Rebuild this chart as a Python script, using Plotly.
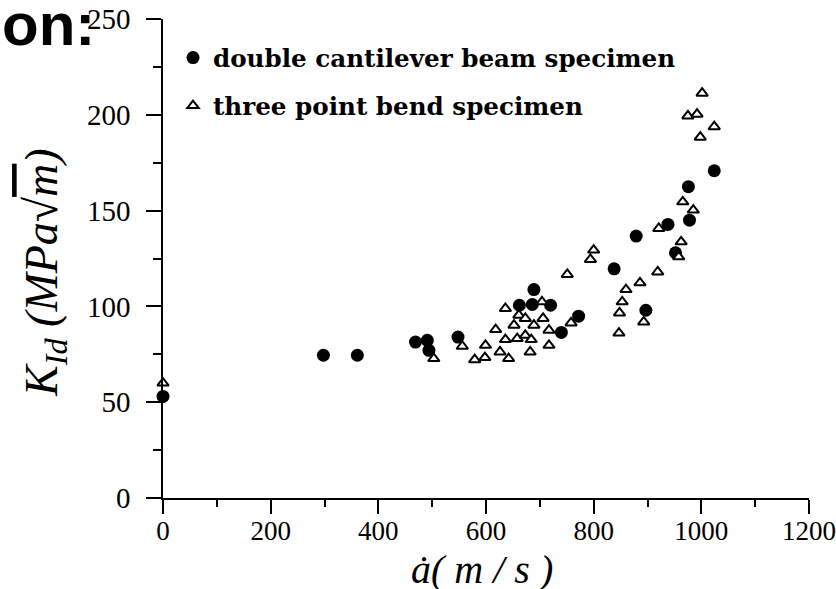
import plotly.graph_objects as go

# double cantilever beam specimen (filled circles)
dcb_x = [0, 298, 361, 469, 491, 494, 548, 662, 686, 689, 720, 740, 772, 838, 879, 897, 938, 952, 976, 978, 1024]
dcb_y = [53, 74.5, 74.5, 81.4, 82.3, 77.1, 84.0, 100.6, 101, 108.8, 100.6, 86.4, 94.9, 119.6, 136.7, 98, 142.8, 128, 162.5, 145, 170.8]

# three point bend specimen (open triangles)
tpb_x = [0, 503, 556, 579, 598, 599, 618, 626, 642, 636, 636, 652, 658, 661, 673, 673, 684, 682, 689, 704, 706,
         717, 717, 751, 758, 800, 794, 847, 848, 853, 860, 886, 893, 919, 921, 958, 962.5, 965.5, 985, 975, 992,
         1001.5, 998, 1024]
tpb_y = [60, 72.8, 79.2, 72.2, 73.3, 79.7, 87.9, 76.2, 72.8, 82.7, 98.9, 90.2, 83.2, 95.4, 93.7, 84.9, 82.7, 76.2,
         90.2, 102.4, 93.7, 87.6, 79.7, 116.7, 91.4, 129.4, 124.5, 86.1, 96.6, 102.4, 108.8, 112.3, 91.9, 118, 140.7,
         125.9, 133.7, 154.6, 150.3, 199.4, 200.3, 211.3, 188.3, 193.8]

x_ticks = [0, 200, 400, 600, 800, 1000, 1200]
y_ticks = [0, 50, 100, 150, 200, 250]

fig = go.Figure()
fig.add_trace(go.Scatter(
    x=dcb_x, y=dcb_y, mode="markers", name="double cantilever beam specimen",
    legendgroup="a",
    marker=dict(symbol="circle", size=13, color="black"),
    cliponaxis=False,
))
fig.add_trace(go.Scatter(
    x=tpb_x, y=tpb_y, mode="markers", name="three point bend specimen",
    legendgroup="b",
    marker=dict(symbol="triangle-up", size=10, color="white", line=dict(color="black", width=2)),
    cliponaxis=False,
))

fig.update_layout(
    width=836, height=589,
    margin=dict(l=163, r=27, t=19, b=91, autoexpand=False),
    paper_bgcolor="white", plot_bgcolor="white",
    showlegend=True,
    legend=dict(
        x=0.0155, y=0.9664, xanchor="left", yanchor="top",
        font=dict(family="DejaVu Serif", size=24.6, color="black", weight="bold"),
        bgcolor="rgba(0,0,0,0)", tracegroupgap=13,
    ),
    xaxis=dict(
        range=[0, 1200], tickvals=x_ticks, ticktext=[str(v) for v in x_ticks],
        showgrid=False, zeroline=False, showline=True, linecolor="black", linewidth=1.5,
        ticks="outside", ticklen=14, tickwidth=1.5, tickcolor="black",
        minor=dict(dtick=100, tick0=0, ticks="outside", ticklen=7, tickwidth=1.5, tickcolor="black"),
        tickfont=dict(family="Liberation Serif", size=27, color="black"),
        ticklabelstandoff=-6, automargin=False,
    ),
    yaxis=dict(
        range=[0, 250], tickvals=y_ticks, ticktext=[str(v) for v in y_ticks],
        showgrid=False, zeroline=False, showline=True, linecolor="black", linewidth=1.5,
        ticks="outside", ticklen=15, tickwidth=1.5, tickcolor="black",
        minor=dict(dtick=25, tick0=0, ticks="outside", ticklen=8, tickwidth=1.5, tickcolor="black"),
        tickfont=dict(family="Liberation Serif", size=29, color="black"),
        ticklabelstandoff=10, automargin=False,
    ),
    annotations=[
        dict(text="<b>on:</b>", xref="paper", yref="paper", x=-0.2523, y=0.9895,
             xanchor="left", yanchor="middle", showarrow=False,
             font=dict(family="Liberation Sans", size=60, color="black")),
        dict(text="<i>K</i><sub><i>Id</i></sub><i> (MPa√<span style='text-decoration:overline'>m</span>)</i>",
             xref="paper", yref="paper", x=-0.1827, y=0.472, textangle=-90,
             xanchor="center", yanchor="middle", showarrow=False,
             font=dict(family="Liberation Serif", size=46, color="black")),
        dict(text="<i>ȧ( m / s )</i>", xref="paper", yref="paper", x=0.494, y=-0.150,
             xanchor="center", yanchor="middle", showarrow=False,
             font=dict(family="Liberation Serif", size=40, color="black")),
    ],
)

fig.write_html("out.html")
